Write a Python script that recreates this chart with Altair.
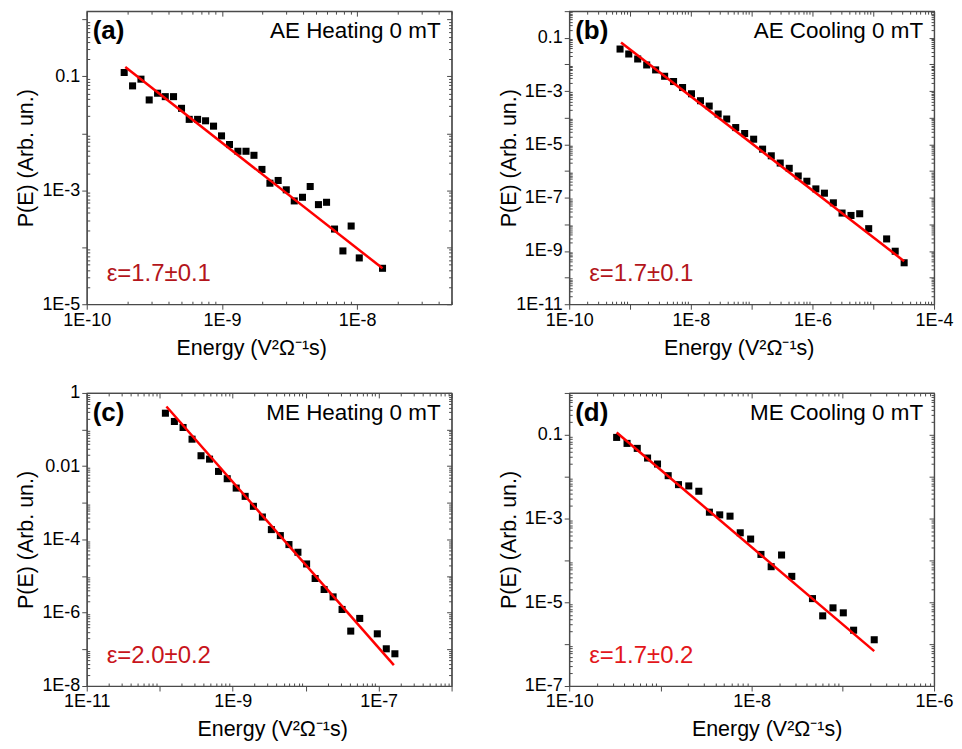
import altair as alt
import pandas as pd

# ---------------- data (log10 values) ----------------
# (a) AE Heating 0 mT
a_logE = [-9.723, -9.661, -9.599, -9.538, -9.476, -9.419, -9.358, -9.299, -9.242, -9.180,
          -9.121, -9.062, -9.003, -8.944, -8.882, -8.822, -8.763, -8.704, -8.645, -8.584,
          -8.524, -8.465, -8.404, -8.347, -8.286, -8.226, -8.167, -8.105, -8.044, -7.984, -7.812]
a_logP = [-0.931, -1.166, -1.048, -1.413, -1.295, -1.355, -1.355, -1.560, -1.754, -1.754,
          -1.779, -1.873, -2.044, -2.196, -2.314, -2.314, -2.385, -2.633, -2.875, -2.827,
          -2.991, -3.186, -3.122, -2.933, -3.251, -3.210, -3.680, -4.064, -3.627, -4.187, -4.369]
a_fitE = [-9.715, -7.812]
a_fitP = [-0.836, -4.369]

# (b) AE Cooling 0 mT
b_logE = [-9.164, -9.021, -8.874, -8.726, -8.579, -8.431, -8.284, -8.136, -7.989, -7.841,
          -7.698, -7.551, -7.410, -7.262, -7.115, -6.967, -6.820, -6.677, -6.530, -6.382,
          -6.234, -6.092, -5.944, -5.803, -5.656, -5.513, -5.366, -5.223, -5.075, -4.780,
          -4.639, -4.492]
b_logP = [-1.422, -1.608, -1.795, -2.019, -2.205, -2.444, -2.642, -2.866, -3.101, -3.362,
          -3.563, -3.862, -4.049, -4.369, -4.593, -4.806, -5.179, -5.429, -5.701, -5.899,
          -6.187, -6.384, -6.672, -6.832, -7.194, -7.578, -7.668, -7.604, -8.164, -8.549,
          -9.011, -9.444]
b_fitE = [-9.148, -4.492]
b_fitP = [-1.175, -9.384]

# (c) ME Heating 0 mT
c_logE = [-9.922, -9.799, -9.680, -9.557, -9.434, -9.317, -9.194, -9.075, -8.952, -8.829,
          -8.716, -8.593, -8.470, -8.347, -8.229, -8.106, -7.987, -7.870, -7.747, -7.624,
          -7.501, -7.382, -7.259, -7.018, -6.895, -6.777]
c_logP = [-0.553, -0.779, -0.943, -1.262, -1.714, -1.807, -2.142, -2.341, -2.597, -2.823,
          -3.095, -3.387, -3.730, -3.894, -4.139, -4.349, -4.668, -5.065, -5.365, -5.567,
          -5.910, -6.501, -6.155, -6.575, -6.984, -7.120]
c_fitE = [-9.908, -6.791]
c_fitP = [-0.371, -7.428]

# (d) ME Cooling 0 mT
d_logE = [-9.480, -9.366, -9.254, -9.141, -9.032, -8.915, -8.802, -8.689, -8.579, -8.463,
          -8.350, -8.237, -8.125, -8.011, -7.898, -7.786, -7.672, -7.560, -7.333, -7.221,
          -7.108, -6.995, -6.882, -6.656]
d_logP = [-1.062, -1.205, -1.324, -1.555, -1.698, -1.976, -2.190, -2.221, -2.348, -2.848,
          -2.912, -2.943, -3.340, -3.490, -3.857, -4.150, -3.871, -4.381, -4.912, -5.324,
          -5.133, -5.252, -5.667, -5.895]
d_fitE = [-9.480, -6.656]
d_fitP = [-0.943, -6.167]

letters = ["(a)", "(b)", "(c)", "(d)"]
titles = ["AE Heating 0 mT", "AE Cooling 0 mT", "ME Heating 0 mT", "ME Cooling 0 mT"]
eps_texts = ["\u03b5=1.7\u00b10.1", "\u03b5=1.7\u00b10.1", "\u03b5=2.0\u00b10.2", "\u03b5=1.7\u00b10.2"]
x_domains = [(1e-10, 5e-8), (1e-10, 1e-4), (1e-11, 1e-6), (1e-10, 1e-6)]
y_domains = [(1e-5, 1.4), (1e-11, 1.0), (1e-8, 1.0), (1e-7, 1.0)]
x_label_exps = [[-10, -9, -8], [-10, -8, -6, -4], [-11, -9, -7], [-10, -8, -6]]
y_label_exps = [[-1, -3, -5], [-1, -3, -5, -7, -9, -11], [0, -2, -4, -6, -8], [-1, -3, -5, -7]]

# ---------------- styling ----------------
FONT = "Liberation Sans"
W, H = 366, 294
AXC = "#4a4a4a"
eps_colors = ["#b3151b", "#b3151b", "#c8141b", "#e3161b"]
xtitle_x = [165, 170, 186, 198]

L = "log(datum.value)/LN10"
R = f"round({L})"
MAJOR = f"abs({L}-{R})<0.001"


def tick_vals(lo, hi):
    import math
    out = []
    for e in range(int(math.floor(math.log10(lo))) - 1, int(math.ceil(math.log10(hi))) + 1):
        for m in range(1, 10):
            v = m * 10.0 ** e
            if lo * 0.999 <= v <= hi * 1.001:
                out.append(v)
    return out


def labeled_test(exps):
    arr = "[" + ",".join(str(e) for e in exps) + "]"
    return f"{MAJOR} && indexof({arr}, {R}) >= 0"


def label_expr(exps):
    txt = f"{R}==0 ? '1' : ({R}==-1 ? '0.1' : ({R}==-2 ? '0.01' : '1E' + {R}))"
    return f"({labeled_test(exps)}) ? ({txt}) : ''"


def make_axis(vals, exps, title, **kw):
    return alt.Axis(
        values=vals, labelExpr=label_expr(exps), title=title,
        tickSize={"condition": {"test": MAJOR, "value": 5}, "value": -3},
        labelFontSize={"condition": {"test": labeled_test(exps), "value": 18}, "value": 0},
        tickColor=AXC, domainColor=AXC, tickWidth=1, domainWidth=1.2,
        labelFont=FONT, labelColor="black",
        labelOverlap=False, labelFlush=False, labelBound=False, labelPadding=2,
        titleFont=FONT, titleFontSize=21.5, titleFontWeight="normal", titleColor="black",
        grid=False, **kw)


def mirror_axis(vals, orient):
    return alt.Axis(
        orient=orient, values=vals, labels=False, title=None,
        tickSize={"condition": {"test": MAJOR, "value": -5}, "value": -3},
        tickColor=AXC, domainColor=AXC, tickWidth=1, domainWidth=1.2, grid=False)


def panel(i, logE, logP, fitE, fitP):
    pts = pd.DataFrame({"E": [10 ** v for v in logE], "P": [10 ** v for v in logP]})
    fit = pd.DataFrame({"E": [10 ** v for v in fitE], "P": [10 ** v for v in fitP]})
    xs = alt.Scale(type="log", domain=list(x_domains[i]), nice=False)
    ys = alt.Scale(type="log", domain=list(y_domains[i]), nice=False)
    xv = tick_vals(*x_domains[i])
    yv = tick_vals(*y_domains[i])
    xa = make_axis(xv, x_label_exps[i], "Energy (V\u00b2\u03a9\u207b\u00b9s)",
                   titleX=xtitle_x[i], titleY=44, titleBaseline="middle")
    ya = make_axis(yv, y_label_exps[i], "P(E) (Arb. un.)",
                   titleX=-60, titleBaseline="middle")
    p = alt.Chart(pts).mark_square(size=50, color="black", opacity=1).encode(
        x=alt.X("E:Q", scale=xs, axis=xa),
        y=alt.Y("P:Q", scale=ys, axis=ya),
    )
    mirror = alt.Chart(fit).mark_line(opacity=0).encode(
        x=alt.X("E:Q", scale=xs, axis=mirror_axis(xv, "top")),
        y=alt.Y("P:Q", scale=ys, axis=mirror_axis(yv, "right")),
    )
    ln = alt.Chart(fit).mark_line(color="#ff0000", strokeWidth=2.5).encode(
        x=alt.X("E:Q", scale=xs, axis=None), y=alt.Y("P:Q", scale=ys, axis=None))
    one = pd.DataFrame({"k": [0]})
    t1 = alt.Chart(one).mark_text(text=letters[i], font=FONT, fontSize=26, fontWeight="bold",
                                  align="left", baseline="middle", color="black").encode(
        x=alt.value(6), y=alt.value(20))
    t2 = alt.Chart(one).mark_text(text=titles[i], font=FONT, fontSize=22.5, align="right",
                                  baseline="middle", color="black").encode(
        x=alt.value(355), y=alt.value(20))
    t3 = alt.Chart(one).mark_text(text=eps_texts[i], font=FONT, fontSize=24, align="left",
                                  baseline="middle", color=eps_colors[i]).encode(
        x=alt.value(20), y=alt.value(264))
    return alt.layer(p, mirror, ln, t1, t2, t3).resolve_axis(
        x="independent", y="independent").properties(width=W, height=H)


pa = panel(0, a_logE, a_logP, a_fitE, a_fitP)
pb = panel(1, b_logE, b_logP, b_fitE, b_fitP)
pc = panel(2, c_logE, c_logP, c_fitE, c_fitP)
pd_ = panel(3, d_logE, d_logP, d_fitE, d_fitP)

chart = alt.vconcat(
    alt.hconcat(pa, pb, spacing=44),
    alt.hconcat(pc, pd_, spacing=44),
    spacing=23,
).properties(
    padding={"left": 7, "top": 0, "right": 0, "bottom": 0},
    background="white",
).configure_view(stroke=AXC, strokeWidth=1.2)

chart.save("out.html", embed_options={"renderer": "svg", "actions": False})
